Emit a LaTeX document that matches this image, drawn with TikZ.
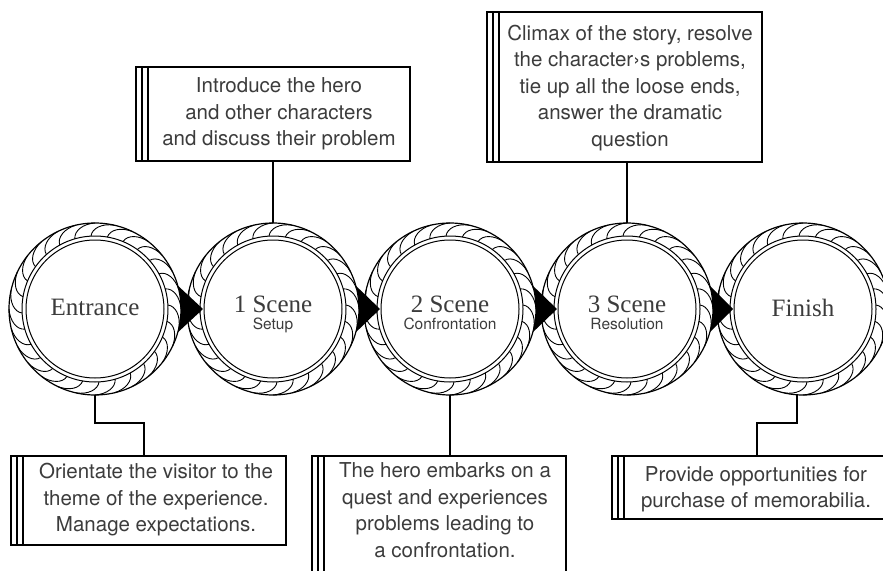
\documentclass[tikz,border=0pt]{standalone}
\usepackage{fontspec}
\setmainfont{Liberation Serif}
\newfontfamily\heros{TeX Gyre Heros}
\usetikzlibrary{calc}
\definecolor{txt}{HTML}{3C3C3C}
\tikzset{
  ring/.style={circle, draw, fill=white, line width=1.2pt, minimum size=172pt, inner sep=0pt, outer sep=0pt},
  strand/.style={line width=0.9pt},
  title/.style={anchor=base, inner sep=0pt, text=txt, font=\fontsize{25}{27}\selectfont},
  subt/.style={anchor=base, inner sep=0pt, text=txt, font=\heros\fontsize{15.5}{18}\selectfont},
  box/.style={draw, line width=1.1pt, inner sep=0pt, outer sep=0pt, anchor=north west},
  boxline/.style={line width=1.1pt},
  boxtext/.style={align=center, text=txt, inner sep=0pt, font=\heros\fontsize{20.5}{26.5}\selectfont},
  conn/.style={line width=2pt},
  arrowtri/.style={fill=black},
}
\newcommand\ropering[3]{%
  \node[ring] (#1) at (#2,#3) {};
  \foreach \i in {0,...,27}{
    \pgfmathsetmacro\a{\i*360/28}
    \draw[strand] ($(#1.center)+(\a:86pt)$) .. controls ($(#1.center)+({\a+8}:86pt)$) and ($(#1.center)+({\a+15}:81pt)$) .. ($(#1.center)+({\a+16}:73pt)$);
  }
  \draw[line width=1pt] (#1.center) circle[radius=73pt];
  \draw[line width=1pt] (#1.center) circle[radius=69pt];
}
\newcommand\ringarrow[2]{%
  \fill[arrowtri] ($(#1)+(80,-26)$) -- ($(#2)+(-70,0)$) -- ($(#1)+(80,26)$) -- cycle;
}
\newcommand\bars[1]{%
  \draw[boxline] ([xshift=-12pt]#1.north west) rectangle (#1.south west);
  \draw[boxline] ([xshift=-6pt]#1.north west) -- ([xshift=-6pt]#1.south west);
}
\begin{document}
\begin{tikzpicture}[x=1pt,y=-1pt]
\useasboundingbox (0,0) rectangle (883,570);
\fill[white] (0,0) rectangle (883,570);
\clip (0,0) rectangle (883,570);
\coordinate (cE) at (95,309);
\coordinate (cS1) at (273,309);
\coordinate (cS2) at (450,309);
\coordinate (cS3) at (627,309);
\coordinate (cF) at (803,309);
% rings from right to left, arrows between
\ropering{F}{803}{309}
\ringarrow{cS3}{cF}
\ropering{S3}{627}{309}
\ringarrow{cS2}{cS3}
\ropering{S2}{450}{309}
\ringarrow{cS1}{cS2}
\ropering{S1}{273}{309}
\ringarrow{cE}{cS1}
\ropering{E}{95}{309}
% ring texts
\node[title] (tE) at (95,315) {Entrance};
\node[title] (tS1) at (273,312) {1 Scene};
\node[subt] (uS1) at (273,329) {Setup};
\node[title] (tS2) at (450,312) {2 Scene};
\node[subt] (uS2) at (450,329) {Confrontation};
\node[title] (tS3) at (627,312) {3 Scene};
\node[subt] (uS3) at (627,329) {Resolution};
\node[title] (tF) at (803,316) {Finish};
% boxes
\node[box, minimum width=262pt, minimum height=94pt] (b1) at (148,67) {};
\bars{b1}
\node[box, minimum width=263pt, minimum height=150pt] (b2) at (499,12) {};
\bars{b2}
\node[box, minimum width=263pt, minimum height=89pt] (b3) at (23,456) {};
\bars{b3}
\node[box, minimum width=242pt, minimum height=140pt] (b4) at (324,456) {};
\bars{b4}
\node[box, minimum width=264pt, minimum height=63pt] (b5) at (624,456) {};
\bars{b5}
% box texts
\node[boxtext] (t1) at (279,114) {Introduce the hero\\and other characters\\and discuss their problem};
\node[boxtext] (t2) at (630,88) {Climax of the story, resolve\\the character›s problems,\\tie up all the loose ends,\\answer the dramatic\\question};
\node[boxtext] (t3) at (156,500) {Orientate the visitor to the\\theme of the experience.\\Manage expectations.};
\node[boxtext] (t4) at (445,510) {The hero embarks on a\\quest and experiences\\problems leading to\\a confrontation.};
\node[boxtext] (t5) at (756,489) {Provide opportunities for\\purchase of memorabilia.};
% connectors
\draw[conn] (S1.north) -- (S1.north |- b1.south);
\draw[conn] (S3.north) -- (S3.north |- b2.south);
\draw[conn] (S2.south) -- (S2.south |- b4.north);
\coordinate (k3) at (144,423);
\draw[conn] (E.south) |- (k3) -- (k3 |- b3.north);
\coordinate (k5) at (757,423);
\draw[conn] ([xshift=-6pt]F.south) |- (k5) -- (k5 |- b5.north);
\end{tikzpicture}
\end{document}
